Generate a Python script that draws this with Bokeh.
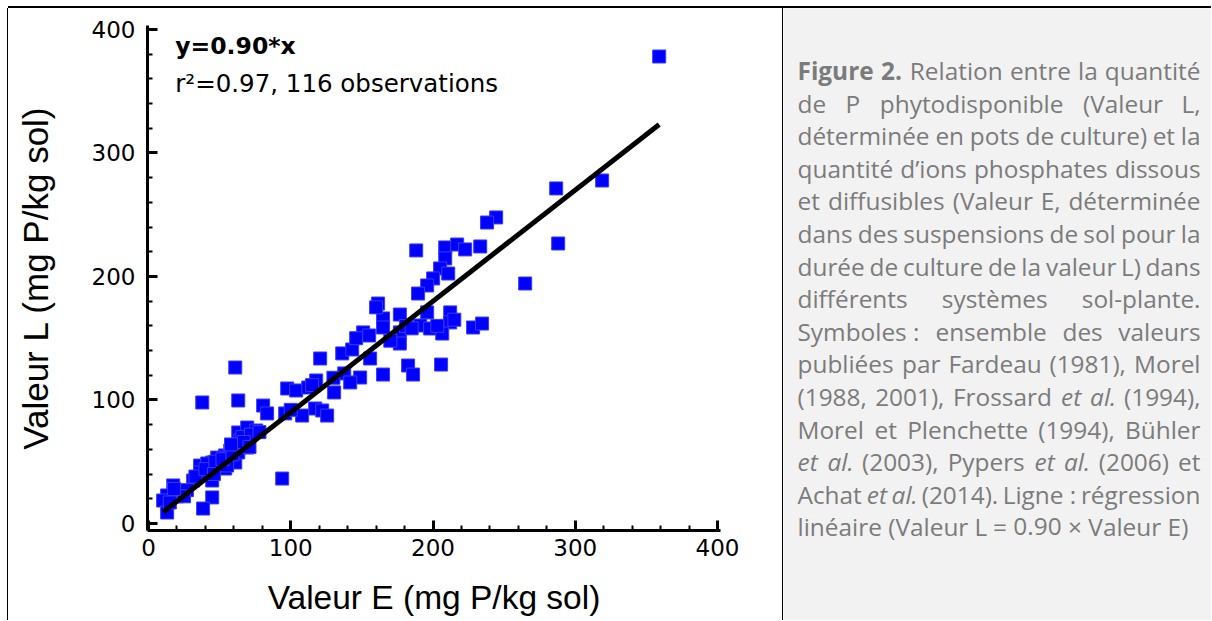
from bokeh.plotting import figure
from bokeh.layouts import row, column
from bokeh.models import Range1d, SingleIntervalTicker, Label, Spacer
from bokeh.embed import file_html
from bokeh.resources import INLINE
from bokeh.core.properties import value

# ---------------- data ----------------
VALEUR_E = [359.0, 286.6, 318.9, 288.0, 264.8, 244.4, 238.0, 188.2, 208.6, 217.0,
            222.6, 233.2, 208.6, 205.0, 210.7, 200.1, 195.9, 189.5, 212.1, 212.1,
            195.9, 191.0, 198.0, 206.5, 176.7, 176.7, 176.7, 228.2, 234.5, 182.5,
            186.0, 205.7, 161.4, 164.9, 164.9, 150.9, 155.1, 120.7, 136.2, 143.2,
            155.8, 164.9, 137.6, 148.8, 141.8, 117.9, 130.5, 97.5, 103.8, 112.3,
            80.6, 83.4, 96.1, 108.0, 117.2, 122.1, 125.6, 61.0, 63.1, 37.8,
            94.0, 63.1, 69.4, 75.7, 64.5, 69.4, 58.8, 53.9, 56.0, 61.0,
            44.8, 36.3, 36.3, 44.8, 31.4, 53.9, 44.8, 38.4, 17.4, 23.7,
            13.1, 10.3, 13.1, 48.3, 41.3, 50.5, 57.5, 63.1, 55.3, 66.0,
            72.0, 27.0, 20.0, 15.0, 33.0, 40.0, 47.0, 52.0, 59.0, 67.0,
            78.0, 100.0, 115.0, 146.0, 170.0, 181.0, 203.0, 215.0, 160.0, 130.0,
            25.0, 18.0, 46.0, 58.0, 71.0, 185.0]
VALEUR_L = [378.1, 271.3, 277.7, 226.7, 194.3, 247.8, 243.7, 221.1, 223.5, 225.9,
            221.9, 224.3, 214.6, 206.5, 202.4, 198.4, 192.7, 186.2, 170.9, 162.8,
            170.9, 160.3, 157.9, 153.8, 169.2, 154.7, 145.7, 158.7, 161.9, 127.9,
            120.6, 128.7, 178.1, 166.0, 158.7, 154.7, 152.2, 133.6, 137.7, 140.9,
            133.6, 120.6, 121.5, 118.2, 114.2, 115.8, 106.1, 109.3, 107.7, 110.1,
            95.5, 89.1, 89.1, 87.4, 93.1, 91.5, 87.4, 126.3, 99.6, 98.0,
            36.4, 73.7, 77.7, 75.3, 67.2, 61.5, 61.5, 55.1, 51.0, 49.4,
            49.4, 46.9, 41.3, 34.8, 34.8, 44.5, 21.1, 12.1, 30.8, 25.1,
            22.7, 18.6, 8.9, 53.4, 48.6, 48.6, 59.1, 57.5, 47.0, 70.0,
            72.0, 27.0, 22.0, 17.0, 38.0, 44.0, 50.0, 52.0, 56.0, 66.0,
            74.0, 92.0, 112.0, 150.0, 148.0, 160.0, 160.0, 165.0, 175.0, 118.0,
            22.0, 28.0, 40.0, 64.0, 62.0, 158.0]
SLOPE = 0.90
X_LABEL = "Valeur E (mg P/kg sol)"
Y_LABEL = "Valeur L (mg P/kg sol)"
EQUATION = "y=0.90*x"
STATS = "r\u00b2=0.97, 116 observations"

CAPTION_LINES = [
    [("Figure 2.", "bold"), ("Relation entre la quantit\u00e9", "normal")],
    [("de P phytodisponible (Valeur L,", "normal")],
    [("d\u00e9termin\u00e9e en pots de culture) et la", "normal")],
    [("quantit\u00e9 d\u2019ions phosphates dissous", "normal")],
    [("et diffusibles (Valeur E, d\u00e9termin\u00e9e", "normal")],
    [("dans des suspensions de sol pour la", "normal")],
    [("dur\u00e9e de culture de la valeur L) dans", "normal")],
    [("diff\u00e9rents syst\u00e8mes sol-plante.", "normal")],
    [("Symboles\u00a0: ensemble des valeurs", "normal")],
    [("publi\u00e9es par Fardeau (1981), Morel", "normal")],
    [("(1988, 2001), Frossard", "normal"), ("et al.", "italic"), ("(1994),", "normal")],
    [("Morel et Plenchette (1994), B\u00fchler", "normal")],
    [("et al.", "italic"), ("(2003), Pypers", "normal"), ("et al.", "italic"), ("(2006) et", "normal")],
    [("Achat", "normal"), ("et al.", "italic"), ("(2014). Ligne\u00a0: r\u00e9gression", "normal")],
    [("lin\u00e9aire (Valeur L = 0.90 \u00d7 Valeur E)", "normal")],
]

FIG_H = 612

# ---------------- scatter figure ----------------
p = figure(width=775, height=FIG_H,
           x_range=Range1d(-0.7, 402.1), y_range=Range1d(-5.67, 403.2),
           output_backend="svg", toolbar_location=None,
           min_border_left=139, min_border_right=63,
           min_border_top=17, min_border_bottom=FIG_H - 522)
p.outline_line_color = None
p.grid.visible = False
p.background_fill_color = "white"
p.border_fill_color = "white"

for ax in (p.xaxis[0], p.yaxis[0]):
    ax.ticker = SingleIntervalTicker(interval=100, num_minor_ticks=5)
    ax.axis_line_width = 3
    ax.axis_line_color = "black"
    ax.major_tick_line_width = 3
    ax.minor_tick_line_width = 2
    ax.major_tick_in = 10
    ax.major_tick_out = 0
    ax.minor_tick_in = 5
    ax.minor_tick_out = 0
    ax.major_label_text_font = "DejaVu Sans"
    ax.major_label_text_font_size = "23px"
    ax.major_label_text_color = "black"
    ax.axis_label_text_font = "Liberation Sans"
    ax.axis_label_text_font_style = "normal"
    ax.axis_label_text_color = "black"

p.xaxis.axis_label = X_LABEL
p.yaxis.axis_label = Y_LABEL
p.xaxis.axis_label_text_font_size = "33.5px"
p.yaxis.axis_label_text_font_size = "35px"
p.xaxis.major_label_standoff = 8
p.yaxis.major_label_standoff = 12
p.xaxis.axis_label_standoff = 20
p.yaxis.axis_label_standoff = 34

p.scatter(VALEUR_E, VALEUR_L, marker="square", size=13,
          fill_color="#0000ff", line_color="#3a3aff", line_width=1)

x0, x1 = min(VALEUR_E), max(VALEUR_E)
p.line([x0, x1], [SLOPE * x0, SLOPE * x1], line_color="black", line_width=5)

p.add_layout(Label(x=18.8, y=386.2, text=EQUATION, text_font="DejaVu Sans",
                   text_font_size="23.5px", text_font_style="bold",
                   text_baseline="middle", text_color="black"))
p.add_layout(Label(x=18.8, y=356.3, text=STATS, text_font="DejaVu Sans",
                   text_font_size="24.5px", text_baseline="middle",
                   text_color="black"))
p.styles = {"box-shadow": "0 -2px 0 0 #000000, -1px 0 0 0 #000000"}

# ---------------- caption panel ----------------
q = figure(width=428, height=FIG_H, x_range=Range1d(783, 1211),
           y_range=Range1d(8 + FIG_H, 8), output_backend="svg",
           toolbar_location=None, min_border=0,
           x_axis_location=None, y_axis_location=None)
q.grid.visible = False
q.outline_line_color = None
q.background_fill_color = "#f2f2f2"
q.border_fill_color = "#f2f2f2"
q.styles = {"box-shadow": "0 -2px 0 0 #000000, -1px 0 0 0 #000000"}
for fig in (p, q):
    if "frame_align" in fig.properties():
        fig.frame_align = False

FS = 24.4
CW = {' ': .26, '\u00a0': .26,
      'a': .556, 'b': .613, 'c': .476, 'd': .613, 'e': .561, 'f': .339, 'g': .548,
      'h': .614, 'i': .253, 'j': .253, 'k': .525, 'l': .253, 'm': .930, 'n': .614,
      'o': .604, 'p': .613, 'q': .613, 'r': .408, 's': .477, 't': .353, 'u': .614,
      'v': .501, 'w': .778, 'x': .524, 'y': .502, 'z': .477,
      '\u00e9': .561, '\u00e8': .561, '\u00fc': .614,
      'A': .633, 'B': .648, 'C': .631, 'D': .729, 'E': .546, 'F': .494, 'G': .728,
      'H': .742, 'I': .291, 'L': .496, 'M': .903, 'P': .604, 'R': .617, 'S': .547,
      'V': .596, '(': .291, ')': .291, '.': .266, ',': .245, ':': .266, '-': .322,
      '\u2019': .165, '\u00d7': .572, '=': .572}
STYLE_FACTOR = {"normal": 1.0, "bold": 1.08, "italic": 0.95}


def word_width(w, style):
    tot = 0.0
    for c in w:
        tot += .572 if c.isdigit() else CW.get(c, .55)
    return tot * FS * STYLE_FACTOR[style]


LEFT, RIGHT = 797.0, 1200.0
Y0, STEP = 70.0, 32.6
groups = {}
for li, runs in enumerate(CAPTION_LINES):
    words = []
    for txt, style in runs:
        for w in txt.split(" "):
            words.append((w, style))
    widths = [word_width(w, s) for w, s in words]
    last = li == len(CAPTION_LINES) - 1
    n = len(words)
    if last or n == 1:
        gap = .26 * FS
    else:
        gap = (RIGHT - LEFT - sum(widths)) / (n - 1)
    y = Y0 + li * STEP
    xpos = LEFT
    for i, ((w, s), wd) in enumerate(zip(words, widths)):
        if last:
            key, xx = (s, "left"), xpos
        elif i == 0:
            key, xx = (s, "left"), LEFT
        elif i == n - 1:
            key, xx = (s, "right"), RIGHT
        else:
            key, xx = (s, "center"), xpos + wd / 2
        g = groups.setdefault(key, {"x": [], "y": [], "t": []})
        g["x"].append(xx)
        g["y"].append(y)
        g["t"].append(w)
        xpos += wd + gap

for (style, align), g in groups.items():
    q.text(x=g["x"], y=g["y"], text=g["t"], text_font=value("Open Sans"),
           text_font_size="%.1fpx" % FS, text_font_style=style, text_align=align,
           text_baseline="middle", text_color="#7b7b7b")

layout = column(Spacer(width=1211, height=8),
                row(Spacer(width=8, height=FIG_H), p, q))
open("out.html", "w").write(file_html(layout, INLINE))
